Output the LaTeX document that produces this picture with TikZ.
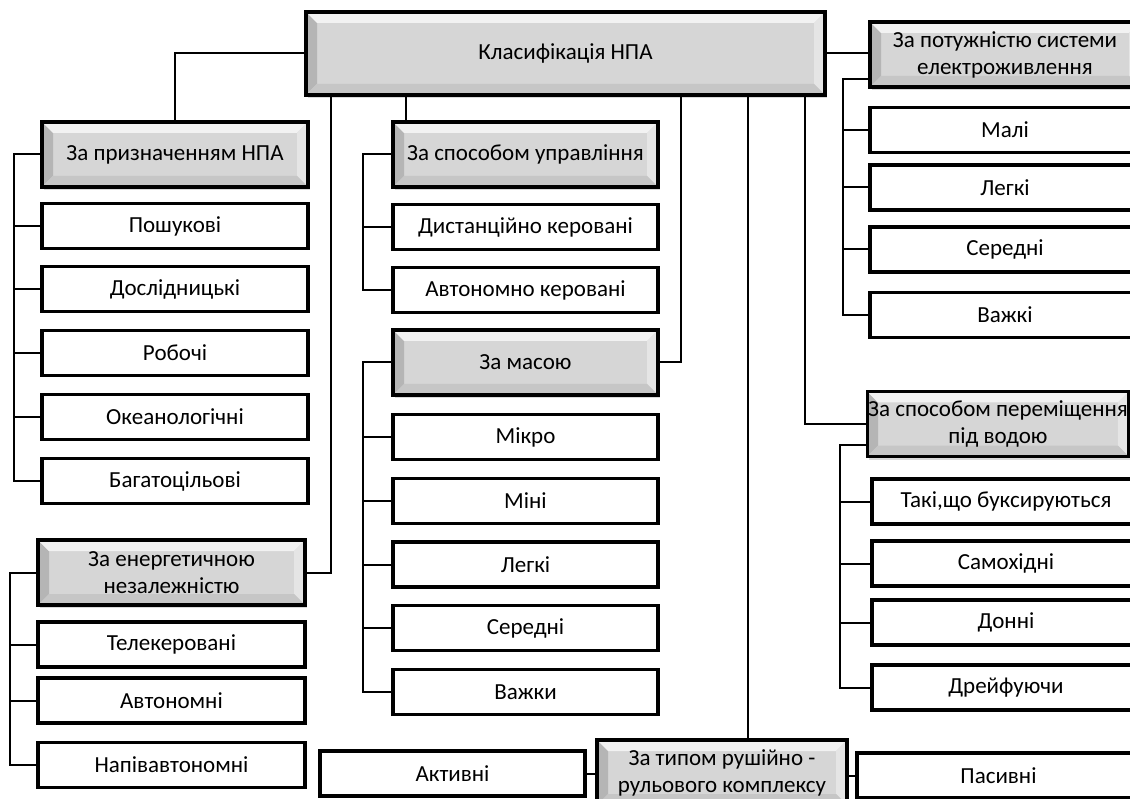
\documentclass[tikz,border=0pt]{standalone}
\usepackage{fontspec}
\setmainfont{Carlito}
\usetikzlibrary{positioning,shadows,calc}

\begin{document}
\begin{tikzpicture}[x=1pt, y=-1pt,
    link/.style={line width=2pt},
    leaf/.style={rectangle, draw, line width=3.4pt, fill=white, minimum height=45pt,
                 inner sep=2pt, font=\fontsize{23}{27}\selectfont},
    head/.style={rectangle, draw, line width=3.4pt, fill=gray!32, minimum height=65pt,
                 inner sep=1pt, align=center, font=\fontsize{23}{27}\selectfont,
                 drop shadow={opacity=0.3, shadow xshift=2pt, shadow yshift=-3pt},
                 path picture={
                   \fill[gray!58] (path picture bounding box.north west)
                     -- ([shift={(11pt,-11pt)}]path picture bounding box.north west)
                     -- ([shift={(11pt,11pt)}]path picture bounding box.south west)
                     -- (path picture bounding box.south west) -- cycle;
                   \fill[gray!10] (path picture bounding box.north west)
                     -- (path picture bounding box.north east)
                     -- ([shift={(-11pt,-11pt)}]path picture bounding box.north east)
                     -- ([shift={(11pt,-11pt)}]path picture bounding box.north west) -- cycle;
                   \fill[gray!20] (path picture bounding box.north east)
                     -- (path picture bounding box.south east)
                     -- ([shift={(-11pt,11pt)}]path picture bounding box.south east)
                     -- ([shift={(-11pt,-11pt)}]path picture bounding box.north east) -- cycle;
                   \fill[gray!45] (path picture bounding box.south west)
                     -- (path picture bounding box.south east)
                     -- ([shift={(-11pt,11pt)}]path picture bounding box.south east)
                     -- ([shift={(11pt,11pt)}]path picture bounding box.south west) -- cycle;
                 }}]

    \clip (0,0) rectangle (1130,799);

    % Root
    \node[head, minimum width=519pt, minimum height=83pt] (main) at (565.5,53.5) {Класифікація НПА};

    % Headers
    \node[head, minimum width=266pt] (hPur) at (175,154.5) {За призначенням НПА};
    \node[head, minimum width=267pt] (hEn) at (171.5,572.5) {За енергетичною\\незалежністю};
    \node[head, minimum width=265pt] (hCtl) at (525.5,154.5) {За способом управління};
    \node[head, minimum width=265pt] (hMass) at (525.5,362.5) {За масою};
    \node[head, minimum width=270pt] (hPow) at (1005,54.5) {За потужністю системи\\електроживлення};
    \node[head, minimum width=260pt] (hMove) at (998,424) {За способом переміщення\\під водою};
    \node[head, minimum width=250pt] (hProp) at (722,772.5) {За типом рушійно -\\рульового комплексу};

    % Leaves: purpose
    \foreach \t/\y [count=\i] in {Пошукові/226, Дослідницькі/289, Робочі/353,
                                  Океанологічні/417, Багатоцільові/481} {
        \node[leaf, minimum width=266pt] (pur\i) at (175,\y) {\t};
        \draw[link] (pur\i.west) -- ++(-26,0);
    }
    \draw[link] (hPur.west) -- ++(-26,0) |- (pur5.west);

    % Leaves: energy
    \foreach \t/\y [count=\i] in {Телекеровані/644.5, Автономні/700.5, Напівавтономні/765} {
        \node[leaf, minimum width=267pt] (en\i) at (171.5,\y) {\t};
        \draw[link] (en\i.west) -- ++(-26,0);
    }
    \draw[link] (hEn.west) -- ++(-26,0) |- (en3.west);

    % Leaves: control
    \foreach \t/\y [count=\i] in {Дистанційно керовані/227, Автономно керовані/290} {
        \node[leaf, minimum width=265pt] (ctl\i) at (525.5,\y) {\t};
        \draw[link] (ctl\i.west) -- ++(-28,0);
    }
    \draw[link] (hCtl.west) -- ++(-28,0) |- (ctl2.west);

    % Leaves: mass
    \foreach \t/\y [count=\i] in {Мікро/437, Міні/501, Легкі/564.5, Середні/628, Важки/692} {
        \node[leaf, minimum width=265pt] (mass\i) at (525.5,\y) {\t};
        \draw[link] (mass\i.west) -- ++(-28,0);
    }
    \draw[link] (hMass.west) -- ++(-28,0) |- (mass5.west);

    % Leaves: power
    \foreach \t/\y [count=\i] in {Малі/130, Легкі/187.5, Середні/249.5, Важкі/315} {
        \node[leaf, minimum width=270pt] (pow\i) at (1005,\y) {\t};
        \draw[link] (pow\i.west) -- ++(-25,0);
    }
    \draw[link] ([yshift=10pt]hPow.south west) -- ++(-25,0) |- (pow4.west);

    % Leaves: movement
    \foreach \t/\y [count=\i] in {{Такі,що буксируються}/501.5, Самохідні/563.5,
                                  Донні/622.5, Дрейфуючи/687.5} {
        \node[leaf, minimum width=268pt] (mov\i) at (1006,\y) {\t};
        \draw[link] (mov\i.west) -- ++(-30,0);
    }
    \draw[link] ([yshift=13pt]hMove.south west) -- ++(-26,0) |- (mov4.west);

    % Leaves: propulsion
    \node[leaf, minimum width=265pt] (act) at (452.5,773.5) {Активні};
    \node[leaf, minimum width=283pt] (pas) at (998.5,775.5) {Пасивні};
    \draw[link] (act.east) -- (hProp.west |- act.east);
    \draw[link] (hProp.east |- pas.west) -- (pas.west);

    % Root to headers
    \draw[link] (main.west) -| (hPur.north);
    \draw[link] (hEn.east) -| ([xshift=27pt]main.south west);
    \draw[link] ([xshift=15pt]hCtl.north west) -- ([xshift=15pt]hCtl.north west |- main.south);
    \draw[link] (hMass.east) -| ([xshift=377pt]main.south west);
    \draw[link] ([xshift=153pt]hProp.north west) -- ([xshift=153pt]hProp.north west |- main.south);
    \draw[link] (hMove.west) -| ([xshift=501pt]main.south west);
    \draw[link] (main.east) -- (main.east -| hPow.west);
\end{tikzpicture}
\end{document}
